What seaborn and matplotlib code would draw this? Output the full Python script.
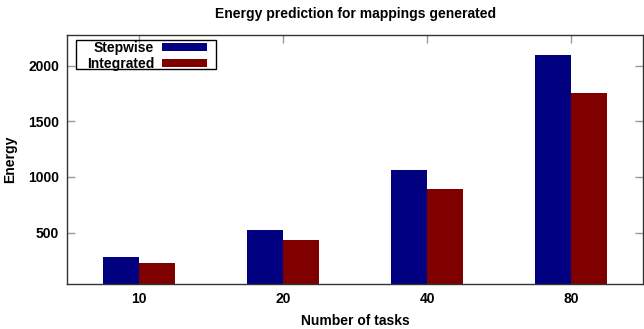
import pandas as pd
import numpy as np
import matplotlib.pyplot as plt
import seaborn as sns
from matplotlib.patches import Rectangle

# values
tasks = ["10", "20", "40", "80"]
stepwise = [279, 521, 1060, 2096]
integrated = [230, 434, 889, 1757]
methods = ["Stepwise", "Integrated"]
colors = ["#000080", "#800000"]

data = pd.DataFrame({
    "tasks": tasks * 2,
    "energy": stepwise + integrated,
    "method": [methods[0]] * len(tasks) + [methods[1]] * len(tasks),
})

sns.set_style("white")
plt.rcParams['font.family'] = ['Liberation Sans', 'DejaVu Sans']
plt.rcParams['font.weight'] = 'bold'
plt.rcParams['text.color'] = 'black'
plt.rcParams['axes.labelcolor'] = 'black'

fig = plt.figure(figsize=(6.44, 3.29), dpi=100)
ax = fig.add_axes([0.1045, 0.1377, 0.894, 0.7568])

sns.barplot(data=data, x="tasks", y="energy", hue="method", order=tasks,
            hue_order=methods, palette=colors, width=0.5, saturation=1,
            edgecolor="none", ax=ax)

ax.set_xlim(-0.5, 3.5)
ax.set_ylim(40, 2280)
ax.set_yticks([500, 1000, 1500, 2000])

ax.tick_params(axis='both', direction='in', length=6, width=1, color='#999999',
               labelsize=10, labelcolor='black', top=True, right=True,
               bottom=True, left=True, pad=6)
for lab in ax.get_xticklabels() + ax.get_yticklabels():
    lab.set_fontweight('bold')
for sp in ax.spines.values():
    sp.set_color('#333333')
    sp.set_linewidth(1)

ax.set_title("Energy prediction for mappings generated", fontsize=10,
             fontweight='bold', pad=12)
ax.set_xlabel("Number of tasks", fontsize=10, fontweight='bold', labelpad=6)
ax.set_ylabel("Energy", fontsize=10, fontweight='bold', labelpad=8)

# gnuplot style key: labels on the left, swatches on the right, boxed
leg = ax.legend(loc='upper right', bbox_to_anchor=(0.2425, 0.975), markerfirst=False,
                frameon=False, fontsize=10, handlelength=3.2, handleheight=0.55,
                borderpad=0, labelspacing=0.12, handletextpad=0.6, borderaxespad=0)
for t in leg.get_texts():
    t.set_fontweight('bold')
ax.add_patch(Rectangle((0.0151, 0.8635), 0.2425, 0.114, transform=ax.transAxes,
                       fill=False, edgecolor='black', linewidth=1, zorder=5))

fig.savefig("out.png", dpi=100)
